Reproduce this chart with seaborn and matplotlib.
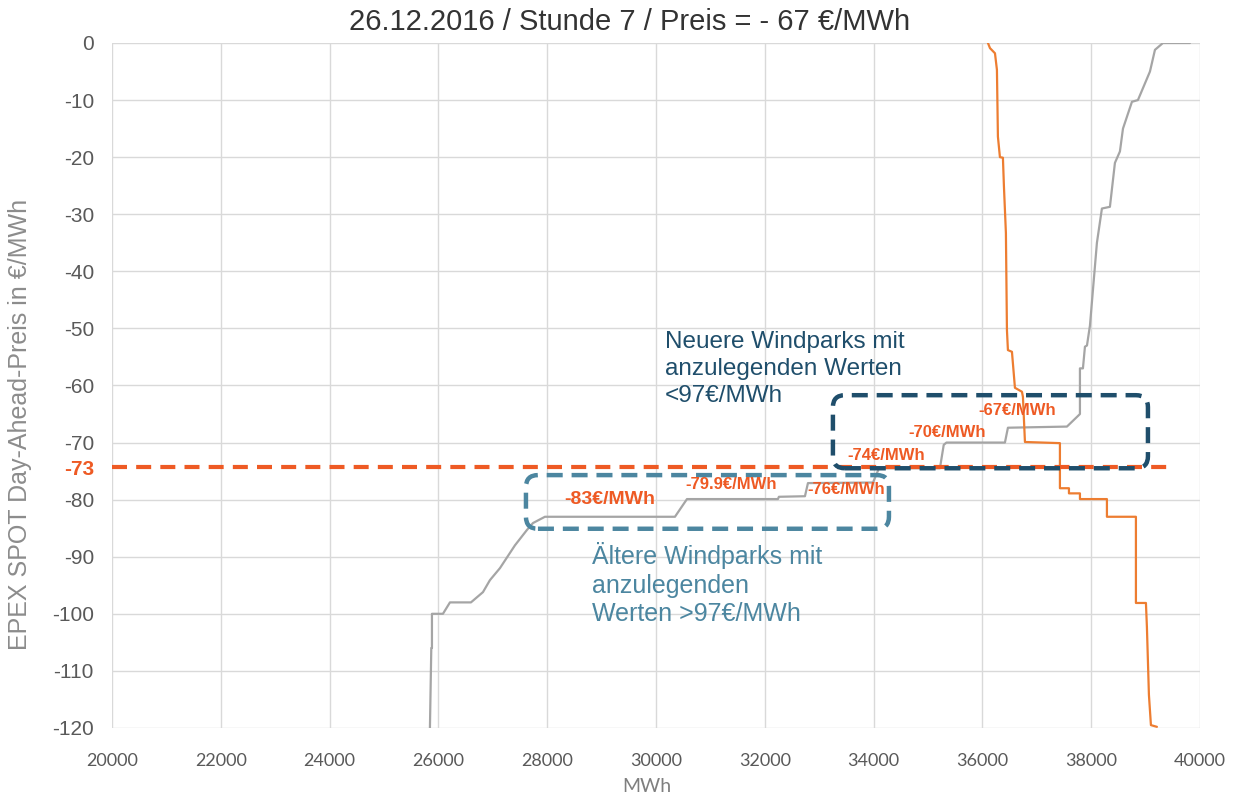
import numpy as np
import pandas as pd
import seaborn as sns
import matplotlib.pyplot as plt
from matplotlib.patches import FancyBboxPatch

# supply curve (gray), MWh / €/MWh
supply_mwh = [25845, 25870, 25882, 25882, 26084, 26213, 26599, 26820, 26948, 27132,
              27408, 27629, 27739, 27959, 30349, 30570, 32242, 32260, 32739, 32794,
              33990, 34100, 35220, 35290, 35340, 36415, 36470, 37555, 37740, 37794,
              37794, 37849, 37886, 37923, 37978, 38106, 38198, 38345, 38437, 38529,
              38585, 38750, 38860, 39081, 39173, 39320, 39816]
supply_price = [-120, -106, -106, -100, -100, -98, -98, -96.2, -94.1, -92,
                -88, -85.3, -84.1, -83, -83, -79.9, -79.9, -79.5, -79.4, -77.1,
                -77, -74.5, -74.5, -70.4, -70, -70, -67.4, -67.2, -65.5, -65,
                -57, -57, -53.2, -53, -49.5, -35, -29, -28.7, -21, -19,
                -15, -10.3, -10, -5, -1.2, 0, 0]

# demand curve (orange)
demand_mwh = [36103, 36140, 36232, 36268, 36286, 36323, 36378, 36397, 36433, 36452,
              36470, 36544, 36599, 36728, 36746, 36783, 37426, 37426, 37592, 37592,
              37794, 37794, 38290, 38290, 38823, 38823, 39007, 39025, 39062, 39099,
              39209]
demand_price = [0, -0.9, -1.8, -4.7, -16.4, -20, -20.1, -25.2, -33.3, -50.3,
                -53.8, -54.1, -60.4, -61.1, -62, -69.9, -70.1, -78, -78, -78.9,
                -78.9, -79.9, -79.9, -83, -83, -98.1, -98.1, -102.3, -114.2, -119.5,
                -119.8]

price_line = -74.3
price_label = "-73"

step_labels = ["-83€/MWh", "-79.9€/MWh", "-76€/MWh", "-74€/MWh", "-70€/MWh", "-67€/MWh"]
step_x = [29154, 31378, 33492, 34227, 35348, 36635]
step_y = [-79.9, -77.3, -78.3, -72.2, -68.3, -64.3]
step_size = [14, 12, 12, 12, 12, 12]

# box extents: x0, x1, y0, y1
old_box = [27610, 34283, -85.1, -75.7]
new_box = [33253, 39044, -74.5, -61.7]

orange = "#ED7D31"
red_orange = "#EE5A24"
gray = "#A5A5A5"
dark_blue = "#1F4E6B"
light_blue = "#4C86A0"
tick_col = "#595959"

sns.set_style("white")
plt.rcParams['font.family'] = ['Liberation Sans', 'DejaVu Sans']

fig = plt.figure(figsize=(12.4, 8.02), dpi=100)
ax = fig.add_axes([0.0903, 0.0923, 0.8774, 0.8541])

supply = pd.DataFrame({"MWh": supply_mwh, "Preis": supply_price})
demand = pd.DataFrame({"MWh": demand_mwh, "Preis": demand_price})
sns.lineplot(data=supply, x="MWh", y="Preis", sort=False, estimator=None,
             color=gray, lw=1.6, ax=ax)
sns.lineplot(data=demand, x="MWh", y="Preis", sort=False, estimator=None,
             color=orange, lw=1.6, ax=ax)

ax.set_xlim(20000, 40000)
ax.set_ylim(-120, 0)

# price line
ax.plot([20000, 39400], [price_line, price_line], color=red_orange, lw=3,
        dashes=(3.6, 2.2), zorder=4)

# rounded dashed boxes
xu = 18.38   # MWh per pixel
yu = 0.1752  # €/MWh per pixel
for box, col in [(old_box, light_blue), (new_box, dark_blue)]:
    p = FancyBboxPatch((box[0], box[2]), box[1] - box[0], box[3] - box[2],
                       boxstyle="round,pad=0,rounding_size=%f" % (12 * xu),
                       mutation_aspect=yu / xu, fill=False, ec=col, lw=3.2,
                       linestyle=(0, (3.6, 2.0)), zorder=5)
    ax.add_patch(p)

for lab, x, y, s in zip(step_labels, step_x, step_y, step_size):
    ax.text(x, y, lab, color=red_orange, fontsize=s, fontweight="bold",
            ha="center", va="center", zorder=6)

ax.text(30165, -57.1, "Neuere Windparks mit\nanzulegenden Werten\n<97€/MWh",
        color=dark_blue, fontsize=17.5, linespacing=1.27, va="center", ha="left")
ax.text(28823, -94.8, "Ältere Windparks mit\nanzulegenden\nWerten >97€/MWh",
        color=light_blue, fontsize=18, linespacing=1.22, va="center", ha="left")

# ticks
yt = list(range(-120, 1, 10))
ax.set_yticks(yt + [price_line])
ax.set_yticklabels([str(v) for v in yt] + [price_label])
ax.set_xticks(range(20000, 40001, 2000))
ax.tick_params(axis="y", length=0, pad=13, labelsize=15, labelcolor=tick_col)
ax.tick_params(axis="x", length=0, pad=18, labelsize=13, labelcolor=tick_col)
for t in ax.get_xticklabels():
    t.set_fontfamily("Lato")
lab73 = ax.get_yticklabels()[-1]
lab73.set_color(red_orange)
lab73.set_fontweight("bold")

ax.grid(True, color="#D9D9D9", lw=1)
gl = ax.get_ygridlines()[-1]
gl.set_visible(False)
for s in ax.spines.values():
    s.set_visible(False)
ax.set_xlabel("")
ax.set_ylabel("")

fig.text(630 / 1240, 1 - 22 / 802, "26.12.2016 / Stunde 7 / Preis = - 67 €/MWh",
         ha="center", va="center", fontsize=21, color="#333333")
fig.text(20 / 1240, 1 - 424 / 802, "EPEX SPOT Day-Ahead-Preis in €/MWh",
         rotation=90, ha="center", va="center", fontsize=18, color="#8C8C8C")
fig.text(647 / 1240, 1 - 787 / 802, "MWh", ha="center", va="center",
         fontsize=14, color="#7F7F7F", family="Lato")

fig.savefig("out.png", dpi=100)
